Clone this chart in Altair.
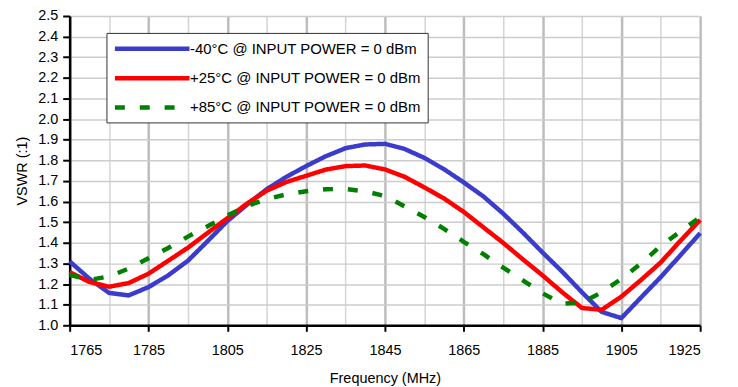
import altair as alt
import pandas as pd

freq = list(range(1765, 1926, 5))

blue_m40 = [1.31, 1.226, 1.157, 1.145, 1.185, 1.242, 1.313, 1.408, 1.505, 1.585,
            1.66, 1.72, 1.772, 1.82, 1.859, 1.877, 1.88, 1.855, 1.812, 1.757,
            1.693, 1.625, 1.542, 1.45, 1.353, 1.26, 1.16, 1.065, 1.035, 1.135,
            1.234, 1.34, 1.447]
red_p25 = [1.258, 1.21, 1.187, 1.205, 1.25, 1.313, 1.376, 1.448, 1.519, 1.59,
           1.653, 1.695, 1.725, 1.755, 1.772, 1.775, 1.756, 1.72, 1.669, 1.615,
           1.55, 1.475, 1.40, 1.32, 1.242, 1.16, 1.084, 1.075, 1.139, 1.22,
           1.305, 1.41, 1.511]
green_p85 = [1.245, 1.22, 1.237, 1.275, 1.325, 1.375, 1.43, 1.48, 1.532, 1.579,
             1.612, 1.635, 1.65, 1.66, 1.661, 1.65, 1.627, 1.577, 1.525, 1.468,
             1.405, 1.345, 1.28, 1.218, 1.155, 1.105, 1.11, 1.16, 1.225, 1.30,
             1.385, 1.455, 1.525]

series_names = ["-40°C @ INPUT POWER = 0 dBm",
                "+25°C @ INPUT POWER = 0 dBm",
                "+85°C @ INPUT POWER = 0 dBm"]
series_colors = ["#3b3bcc", "#ff0000", "#008000"]
series_dash = [[1, 0], [1, 0], [10, 15]]

rows = []
for name, vals in zip(series_names, [blue_m40, red_p25, green_p85]):
    for f, v in zip(freq, vals):
        rows.append({"Frequency": f, "VSWR": v, "Series": name})
df = pd.DataFrame(rows)

FONT = "Liberation Sans"
FS = 14.5

major_test = "datum.value % 20 === 5"

x_axis = alt.Axis(
    values=list(range(1765, 1926, 10)),
    labelExpr=f"{major_test} ? datum.label : ''",
    title="Frequency (MHz)",
    grid=True,
    gridColor={"condition": {"test": major_test, "value": "#bdbdbd"}, "value": "#d4d4d4"},
    gridWidth={"condition": {"test": major_test, "value": 2.5}, "value": 1.5},
    tickOpacity={"condition": {"test": major_test, "value": 1}, "value": 0},
    tickColor="black", tickSize=6, tickWidth=2,
    domainColor="black", domainWidth=2.5,
    labelFontSize=FS, labelFont=FONT, labelColor="black", labelPadding=12,
    titleFontSize=FS, titleFont=FONT, titleColor="black", titleFontWeight="normal",
    titlePadding=15, format="d",
)

y_axis = alt.Axis(
    values=[round(1.0 + 0.1 * i, 1) for i in range(16)],
    format=".1f",
    title="VSWR (:1)",
    grid=True, gridColor="#cccccc", gridWidth=1.5,
    tickColor="black", tickSize=7, tickWidth=2,
    domainColor="black", domainWidth=2.5,
    labelFontSize=FS, labelFont=FONT, labelColor="black", labelPadding=5,
    titleFontSize=FS, titleFont=FONT, titleColor="black", titleFontWeight="normal",
    titlePadding=8,
)

legend = alt.Legend(
    orient="none", legendX=37, legendY=17, title=None,
    symbolType="M-1,0H9", symbolSize=225, symbolStrokeWidth=4.5,
    labelFontSize=15, labelFont=FONT, labelColor="black", labelLimit=400,
    fillColor="white", strokeColor="#333333", padding=6, rowPadding=10.5,
    labelOffset=58,
)

chart = alt.Chart(df).mark_line(strokeWidth=4.5, strokeCap="butt").encode(
    x=alt.X("Frequency:Q", scale=alt.Scale(domain=[1765, 1925], nice=False, zero=False), axis=x_axis),
    y=alt.Y("VSWR:Q", scale=alt.Scale(domain=[1.0, 2.5], nice=False, zero=False), axis=y_axis),
    color=alt.Color("Series:N", scale=alt.Scale(domain=series_names, range=series_colors), legend=legend),
    strokeDash=alt.StrokeDash("Series:N", scale=alt.Scale(domain=series_names, range=series_dash), legend=legend),
    order=alt.Order("Frequency:Q"),
).properties(
    width=634, height=311,
    autosize=alt.AutoSizeParams(type="none"),
    padding={"left": 62, "top": 7, "right": 30, "bottom": 60},
).configure_view(
    stroke="black", strokeWidth=2.5,
).configure(background="white")

chart.save("out.html", embed_options={"renderer": "svg", "actions": False})
